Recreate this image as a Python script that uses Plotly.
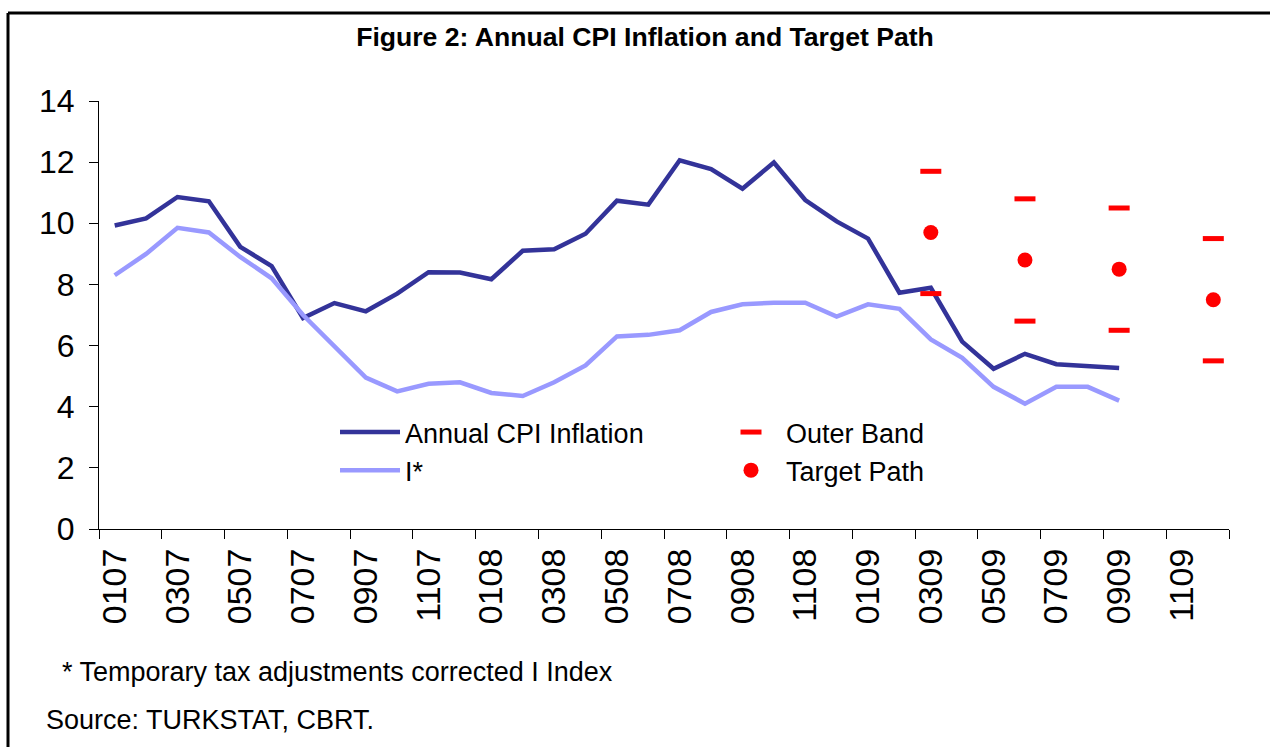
import plotly.graph_objects as go

# months 0107 .. 1209 (MMYY)
months = [f"{m:02d}{y:02d}" for y in (7, 8, 9) for m in range(1, 13)]

cpi = [9.93, 10.16, 10.86, 10.72, 9.23, 8.60, 6.90, 7.39, 7.12, 7.70, 8.40, 8.39,
       8.17, 9.10, 9.15, 9.66, 10.74, 10.61, 12.06, 11.77, 11.13, 11.99, 10.76, 10.06,
       9.50, 7.73, 7.89, 6.13, 5.24, 5.73, 5.39, 5.33, 5.27]
i_star = [8.30, 9.00, 9.85, 9.70, 8.90, 8.20, 7.00, 6.00, 4.95, 4.50, 4.75, 4.80,
          4.45, 4.35, 4.80, 5.35, 6.30, 6.35, 6.50, 7.10, 7.35, 7.40, 7.40, 6.95,
          7.35, 7.20, 6.20, 5.60, 4.65, 4.10, 4.65, 4.65, 4.20]

target_months = ["0309", "0609", "0909", "1209"]
target_path = [9.7, 8.8, 8.5, 7.5]
band_upper = [11.7, 10.8, 10.5, 9.5]
band_lower = [7.7, 6.8, 6.5, 5.5]

FONT = "Arial, Liberation Sans, sans-serif"

# plot area in pixels: x 99..1229, y 101..529
L, R, T, B = 99, 41, 101, 218
PW, PH = 1270 - L - R, 747 - T - B


def px(x):
    return (x - L) / PW


def py(y):
    return (747 - B - y) / PH


fig = go.Figure()
fig.add_trace(go.Scatter(
    x=months[:len(cpi)], y=cpi, mode="lines", name="Annual CPI Inflation",
    line=dict(color="#333399", width=4.5), legend="legend",
))
fig.add_trace(go.Scatter(
    x=months[:len(i_star)], y=i_star, mode="lines", name="I*",
    line=dict(color="#9999FF", width=4.5), legend="legend",
))
fig.add_trace(go.Scatter(
    x=target_months + target_months, y=band_upper + band_lower, mode="markers",
    name="Outer Band", legend="legend2",
    marker=dict(symbol="line-ew", size=15, line=dict(color="#FF0000", width=5)),
))
fig.add_trace(go.Scatter(
    x=target_months, y=target_path, mode="markers", name="Target Path",
    legend="legend2",
    marker=dict(symbol="circle", size=15, color="#FF0000"),
))

fig.update_xaxes(
    type="category", categoryorder="array", categoryarray=months,
    range=[-0.5, len(months) - 0.5],
    tickmode="linear", tick0=0, dtick=2, tickson="boundaries",
    tickangle=-90, ticks="outside", ticklen=9, tickcolor="black",
    showline=True, linecolor="black", linewidth=1, showgrid=False,
    tickfont=dict(family=FONT, size=34, color="black"), ticklabelstandoff=5,
)
fig.update_yaxes(
    range=[0, 14], dtick=2, ticks="outside", ticklen=9, tickcolor="black",
    showline=True, linecolor="black", linewidth=1, showgrid=False, zeroline=False,
    tickfont=dict(family=FONT, size=32, color="black"), ticklabelstandoff=8,
)

legend_style = dict(
    font=dict(family=FONT, size=27, color="black"), bgcolor="rgba(0,0,0,0)",
    yanchor="top", xanchor="left", tracegroupgap=0, itemwidth=60,
)
fig.update_layout(
    width=1270, height=747,
    margin=dict(l=L, r=R, t=T, b=B),
    paper_bgcolor="white", plot_bgcolor="white",
    title=dict(
        text="<b>Figure 2: Annual CPI Inflation and Target Path</b>",
        x=645 / 1270, xanchor="center", y=1 - 37 / 747, yanchor="middle",
        font=dict(family=FONT, size=26.6, color="black"),
    ),
    legend=dict(x=px(335), y=py(408), **legend_style),
    legend2=dict(x=px(716), y=py(408), **legend_style),
    showlegend=True,
    annotations=[
        dict(text="* Temporary tax adjustments corrected I Index", x=px(60), y=py(672),
             xref="paper", yref="paper", xanchor="left", yanchor="middle",
             showarrow=False, font=dict(family=FONT, size=27, color="black")),
        dict(text="Source: TURKSTAT, CBRT.", x=px(44), y=py(720),
             xref="paper", yref="paper", xanchor="left", yanchor="middle",
             showarrow=False, font=dict(family=FONT, size=27, color="black")),
    ],
    shapes=[
        dict(type="line", xref="paper", yref="paper", x0=px(8), x1=px(1270),
             y0=py(13), y1=py(13), line=dict(color="black", width=3)),
        dict(type="line", xref="paper", yref="paper", x0=px(8), x1=px(8),
             y0=py(13), y1=py(750), line=dict(color="black", width=3)),
    ],
)

fig.write_html(
    "out.html",
    config={"displayModeBar": False},
    post_script="document.body.style.margin='0';document.body.style.overflow='hidden';",
)
